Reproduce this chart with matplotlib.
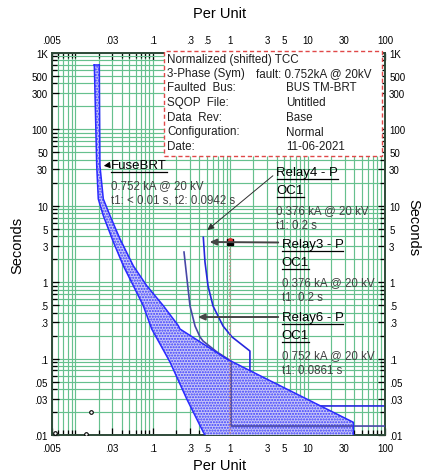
import matplotlib
matplotlib.use('Agg')
import matplotlib.pyplot as plt
import numpy as np
from matplotlib.ticker import LogLocator, NullFormatter
from matplotlib.lines import Line2D
from matplotlib.patches import Rectangle

plt.rcParams['font.family'] = ['Liberation Sans', 'DejaVu Sans']
plt.rcParams['hatch.linewidth'] = 1.0

# ---------------- data ----------------
x_ticks = [0.005, 0.03, 0.1, 0.3, 0.5, 1, 3, 5, 10, 30, 100]
x_tick_labels = ['.005', '.03', '.1', '.3', '.5', '1', '3', '5', '10', '30', '100']
y_ticks = [1000, 500, 300, 100, 50, 30, 10, 5, 3, 1, 0.5, 0.3, 0.1, 0.05, 0.03, 0.01]
y_tick_labels = ['1K', '500', '300', '100', '50', '30', '10', '5', '3', '1',
                 '.5', '.3', '.1', '.05', '.03', '.01']

# FuseBRT minimum melt (left) and total clearing (right) curves
fuse_minmelt_pu = [0.0176, 0.0189, 0.0198, 0.0230, 0.0310, 0.0417, 0.0561,
                   0.0755, 0.097, 0.167, 0.275, 0.450, 0.473]
fuse_minmelt_s = [700, 33.5, 12.3, 7.41, 3.36, 1.64, 0.90,
                  0.492, 0.244, 0.0902, 0.0296, 0.0109, 0.01]
fuse_clear_pu = [0.0204, 0.0208, 0.0230, 0.0281, 0.0378, 0.0561, 0.0836,
                 0.137, 0.214, 0.225, 0.904, 3.27, 39.0, 39.0]
fuse_clear_s = [700, 33.5, 12.3, 7.41, 3.68, 1.64, 0.90,
                0.492, 0.270, 0.244, 0.0988, 0.0514, 0.01466, 0.01]

# Relay4 / Relay3 (same settings) curve
relay4_pu = [0.450, 0.473, 0.518, 0.601, 0.809, 1.057, 1.80, 1.80, 100]
relay4_s = [3.87, 1.84, 0.892, 0.488, 0.267, 0.192, 0.1257, 0.0240, 0.0240]

# Relay6 curve
relay6_pu = [0.2535, 0.277, 0.303, 0.352, 0.408, 0.446, 0.676, 1.026, 1.026, 100]
relay6_s = [2.48, 1.10, 0.488, 0.267, 0.192, 0.170, 0.122, 0.093, 0.0131, 0.0131]

# fault marker
fault_pu = 1.0
fault_s = 3.36

# small fuse points near the bottom
fuse_pts_pu = [0.00547, 0.01374, 0.0158]
fuse_pts_s = [0.0106, 0.0103, 0.0202]

# arrow targets (data)
fuse_arrow = (0.0215, 33.0)
relay4_arrow = (0.473, 4.54)
relay3_arrow = (0.498, 3.36)
relay6_arrow = (0.352, 0.35)

# ---------------- figure ----------------
W, H = 422, 477
fig = plt.figure(figsize=(W / 100, H / 100), dpi=100)
ax = fig.add_axes([52 / W, 1 - 436 / H, 333 / W, 382 / H])
ax.set_xscale('log')
ax.set_yscale('log')
ax.set_xlim(0.005, 100)
ax.set_ylim(0.01, 1000)


def fx(px):
    return px / W


def fy(py):
    return 1 - py / H


ax.set_xticks(x_ticks)
ax.set_xticklabels(x_tick_labels)
ax.set_yticks(y_ticks)
ax.set_yticklabels(y_tick_labels)
ax.xaxis.set_minor_locator(LogLocator(base=10, subs=np.arange(1, 10), numticks=30))
ax.yaxis.set_minor_locator(LogLocator(base=10, subs=np.arange(1, 10), numticks=30))
ax.xaxis.set_minor_formatter(NullFormatter())
ax.yaxis.set_minor_formatter(NullFormatter())
ax.tick_params(which='both', direction='in', top=True, right=True,
               labeltop=True, labelright=True, color='black', width=0.9,
               labelsize=7)
ax.tick_params(axis='x', which='major', pad=6)
ax.tick_params(axis='y', which='major', pad=3)
ax.tick_params(which='major', length=5)
ax.tick_params(which='minor', length=3.5)
ax.grid(True, which='both', color='#66c08e', lw=0.85)
for s in ax.spines.values():
    s.set_color('#2e4a38')
    s.set_linewidth(1.4)

# axis titles
fig.text(fx(220), fy(14), 'Per Unit', ha='center', va='center', fontsize=10.5)
fig.text(fx(220), fy(466), 'Per Unit', ha='center', va='center', fontsize=10.5)
fig.text(fx(17), fy(245), 'Seconds', ha='center', va='center', fontsize=10.5, rotation=90)
fig.text(fx(413), fy(228), 'Seconds', ha='center', va='center', fontsize=10.5, rotation=270)

# fuse band
poly_x = fuse_minmelt_pu + fuse_clear_pu[::-1]
poly_y = fuse_minmelt_s + fuse_clear_s[::-1]
ax.fill(poly_x, poly_y, facecolor='#c6c6f6', hatch='......', edgecolor='#3b3bff',
        linewidth=0, zorder=3)
ax.plot(fuse_minmelt_pu, fuse_minmelt_s, color='#2a2aff', lw=1.1, zorder=4)
ax.plot(fuse_clear_pu, fuse_clear_s, color='#2a2aff', lw=1.1, zorder=4)
ax.plot([fuse_minmelt_pu[0], fuse_clear_pu[0]], [fuse_minmelt_s[0], fuse_clear_s[0]],
        color='#2a2aff', lw=1.1, zorder=4)

# relays
ax.plot(relay4_pu, relay4_s, color='#2626dc', lw=1.2, zorder=2.5)
ax.plot(relay6_pu, relay6_s, color='#4747a6', lw=1.2, zorder=3.5)

# fault line and marker
ax.plot([fault_pu, fault_pu], [fault_s, 0.01], color='#c98a8a', lw=1.2,
        linestyle=(0, (1, 1)), zorder=3.6)
ax.plot([fault_pu], [fault_s], marker='s', color='black', markersize=4.5, zorder=6)
ax.plot([fault_pu], [fault_s * 1.06], marker='o', color='#e03030', markersize=2.5, zorder=6)

ax.plot(fuse_pts_pu, fuse_pts_s, linestyle='none', marker='o', markersize=2.6,
        markerfacecolor='white', markeredgecolor='black', markeredgewidth=0.8, zorder=5)

# info box
box = Rectangle((fx(164), fy(157)), fx(382) - fx(164), fy(52) - fy(157),
                transform=fig.transFigure, facecolor='white', edgecolor='#e04848',
                lw=1.0, linestyle=(0, (3, 2)), zorder=7)
fig.add_artist(box)
box_left = ['Normalized (shifted) TCC', '3-Phase (Sym)', 'Faulted  Bus:', 'SQOP  File:',
            'Data  Rev:', 'Configuration:', 'Date:']
box_right = ['', 'fault: 0.752kA @ 20kV', 'BUS TM-BRT', 'Untitled', 'Base', 'Normal',
             '11-06-2021']
box_rows = [59.5, 74, 88.5, 103, 118, 132.5, 147]
for i, (l, r) in enumerate(zip(box_left, box_right)):
    fig.text(fx(167), fy(box_rows[i]), l, fontsize=8.4, va='center', ha='left', zorder=8,
             color='#202020')
    if r:
        xr = 256 if i == 1 else 286
        fig.text(fx(xr), fy(box_rows[i]), r, fontsize=8.4, va='center', ha='left', zorder=8,
                 color='#202020')

# annotations
underlined = []
name_fs = 9.5
det_fs = 8.3
t = fig.text(fx(111), fy(166), 'FuseBRT', fontsize=name_fs, va='center', ha='left', zorder=8)
underlined.append(t)
fig.text(fx(111), fy(186), '0.752 kA @ 20 kV', fontsize=det_fs, va='center', color='#404040')
fig.text(fx(111), fy(200.5), 't1: < 0.01 s, t2: 0.0942 s', fontsize=det_fs, va='center',
         color='#404040')
ax.annotate('', xy=fuse_arrow, xycoords='data', xytext=(fx(110), fy(166)),
            textcoords='figure fraction',
            arrowprops=dict(arrowstyle='-|>,head_length=0.35,head_width=0.18',
                            color='black', lw=0.8), zorder=8)

labels = [
    ('Relay4 - P', 'OC1', '0.376 kA @ 20 kV', 't1: 0.2 s', 276.5, 173),
    ('Relay3 - P', 'OC1', '0.376 kA @ 20 kV', 't1: 0.2 s', 281.5, 245),
    ('Relay6 - P', 'OC1', '0.752 kA @ 20 kV', 't1: 0.0861 s', 281.5, 318),
]
for n1, n2, d1, d2, px, py in labels:
    underlined.append(fig.text(fx(px), fy(py), n1, fontsize=name_fs, va='center', zorder=8))
    underlined.append(fig.text(fx(px), fy(py + 18), n2, fontsize=name_fs, va='center', zorder=8))
    fig.text(fx(px), fy(py + 38), d1, fontsize=det_fs, va='center', color='#404040', zorder=8)
    fig.text(fx(px), fy(py + 53), d2, fontsize=det_fs, va='center', color='#404040', zorder=8)

ax.annotate('', xy=relay4_arrow, xycoords='data', xytext=(fx(275), fy(175)),
            textcoords='figure fraction',
            arrowprops=dict(arrowstyle='-|>,head_length=0.4,head_width=0.18',
                            color='#303030', lw=0.7), zorder=8)
ax.annotate('', xy=relay3_arrow, xycoords='data', xytext=(fx(281), fy(243.5)),
            textcoords='figure fraction',
            arrowprops=dict(arrowstyle='-|>,head_length=0.4,head_width=0.18',
                            color='#454545', lw=1.4), zorder=8)
ax.annotate('', xy=relay6_arrow, xycoords='data', xytext=(fx(281), fy(318)),
            textcoords='figure fraction',
            arrowprops=dict(arrowstyle='-|>,head_length=0.4,head_width=0.18',
                            color='#454545', lw=1.4), zorder=8)

fig.canvas.draw()
r = fig.canvas.get_renderer()
for t in underlined:
    bb = t.get_window_extent(renderer=r)
    y0 = (bb.y0 - 0.5) / H
    fig.add_artist(Line2D([bb.x0 / W, bb.x1 / W], [y0, y0], color='black', lw=0.9,
                          transform=fig.transFigure, zorder=8))

fig.savefig('out.png', dpi=100)
